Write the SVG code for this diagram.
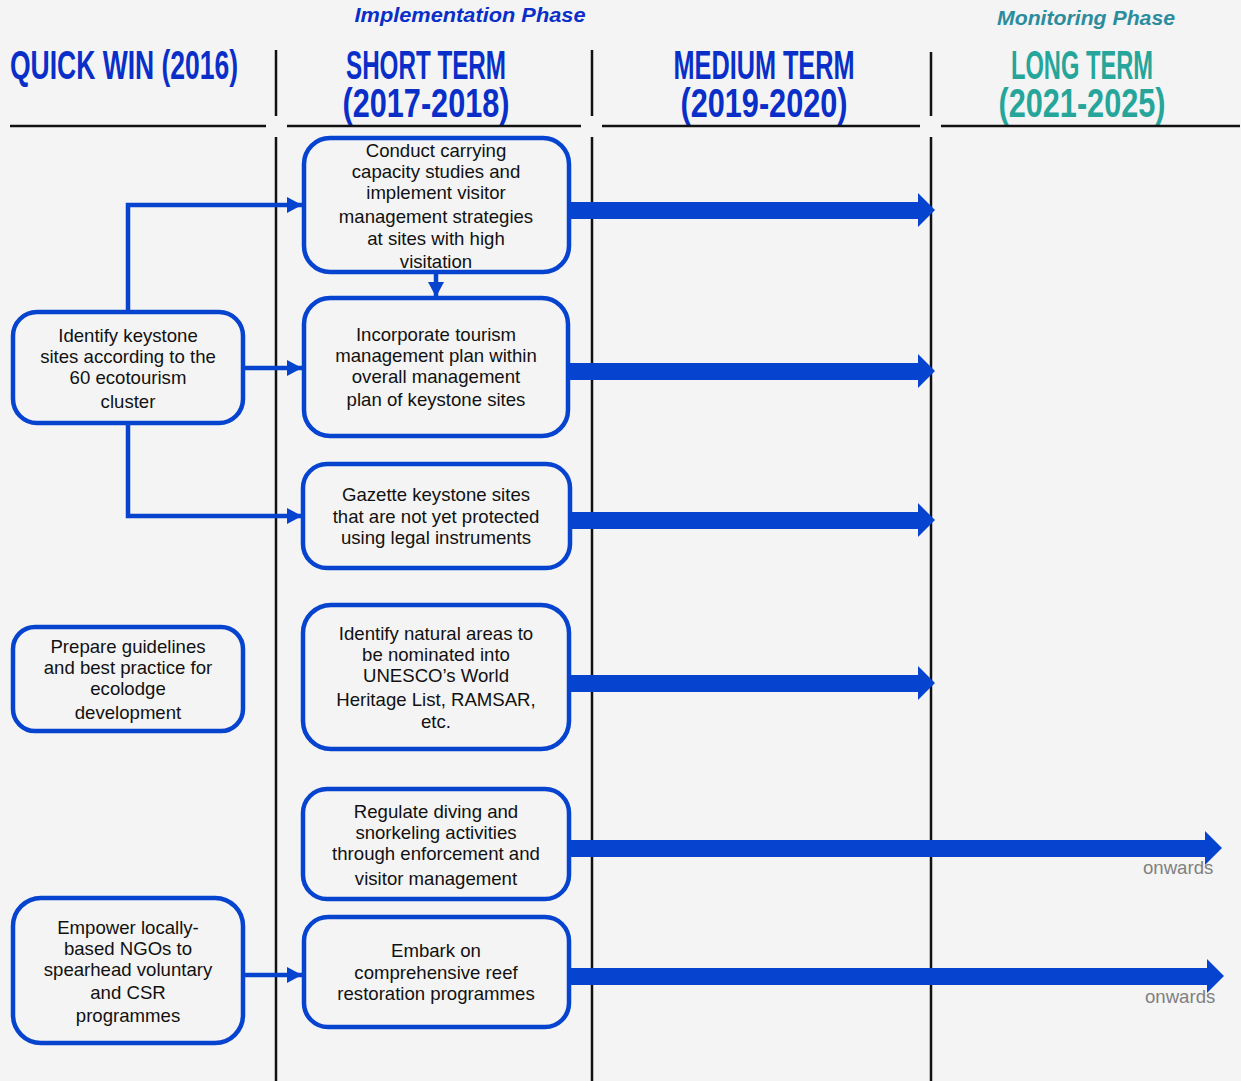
<svg xmlns="http://www.w3.org/2000/svg" width="1241" height="1081" viewBox="0 0 1241 1081">
<defs>
<style>
.bg{fill:#f4f4f4}
.div{stroke:#111;stroke-width:2.5;fill:none}
.box{fill:#f4f4f4;stroke:#0644d0;stroke-width:4.5}
.t{font-family:"Liberation Sans",Arial,sans-serif;font-size:18.6px;fill:#111;text-anchor:middle}
.hd{font-family:"Liberation Sans",Arial,sans-serif;font-weight:bold;font-size:40px;fill:#0a2fc8;text-anchor:middle}
.teal{fill:#26a69a}
.ph{font-family:"Liberation Sans",Arial,sans-serif;font-weight:bold;font-style:italic;font-size:20px;text-anchor:middle}
.conn{stroke:#0644d0;stroke-width:4.5;fill:none}
.big{fill:#0644d0}
.on{font-family:"Liberation Sans",Arial,sans-serif;font-size:18.6px;fill:#808080}
</style>
<marker id="ah" markerWidth="15" markerHeight="16" refX="15" refY="8" orient="auto" markerUnits="userSpaceOnUse">
<path d="M0,0 L15,8 L0,16 Z" fill="#0644d0"/>
</marker>
</defs>
<rect class="bg" x="0" y="0" width="1241" height="1081"/>

<g id="headers">
<text class="ph" x="470" y="22" fill="#0a2fc8" textLength="231" lengthAdjust="spacingAndGlyphs">Implementation Phase</text>
<text class="ph" x="1086" y="25" fill="#2b8c9e" textLength="178" lengthAdjust="spacingAndGlyphs">Monitoring Phase</text>
<text class="hd" x="124" y="79" textLength="228" lengthAdjust="spacingAndGlyphs">QUICK WIN (2016)</text>
<text class="hd" x="426" y="79" textLength="160" lengthAdjust="spacingAndGlyphs">SHORT TERM</text>
<text class="hd" x="426" y="117" textLength="167" lengthAdjust="spacingAndGlyphs">(2017-2018)</text>
<text class="hd" x="764" y="79" textLength="181" lengthAdjust="spacingAndGlyphs">MEDIUM TERM</text>
<text class="hd" x="764" y="117" textLength="167" lengthAdjust="spacingAndGlyphs">(2019-2020)</text>
<text class="hd teal" x="1082" y="79" textLength="142" lengthAdjust="spacingAndGlyphs">LONG TERM</text>
<text class="hd teal" x="1082" y="117" textLength="167" lengthAdjust="spacingAndGlyphs">(2021-2025)</text>
</g>

<g id="grid">
<line class="div" x1="10" y1="126" x2="266" y2="126"/>
<line class="div" x1="287" y1="126" x2="581" y2="126"/>
<line class="div" x1="602" y1="126" x2="920" y2="126"/>
<line class="div" x1="941" y1="126" x2="1240" y2="126"/>
<line class="div" x1="276" y1="50" x2="276" y2="116"/>
<line class="div" x1="276" y1="137" x2="276" y2="1081"/>
<line class="div" x1="592" y1="50" x2="592" y2="116"/>
<line class="div" x1="592" y1="137" x2="592" y2="1081"/>
<line class="div" x1="931" y1="52" x2="931" y2="116"/>
<line class="div" x1="931" y1="137" x2="931" y2="1081"/>
</g>

<g id="connectors">
<polyline class="conn" points="128,312 128,205 302,205" marker-end="url(#ah)"/>
<line class="conn" x1="243" y1="368" x2="302" y2="368" marker-end="url(#ah)"/>
<polyline class="conn" points="128,423 128,516 302,516" marker-end="url(#ah)"/>
<line class="conn" x1="436" y1="272" x2="436" y2="297" marker-end="url(#ah)"/>
<line class="conn" x1="243" y1="975" x2="302" y2="975" marker-end="url(#ah)"/>
<path class="big" d="M569,202 H918 V193 L935,210 L918,227 V219 H569 Z"/>
<path class="big" d="M568,363 H918 V354 L935,371 L918,388 V380 H568 Z"/>
<path class="big" d="M570,512 H918 V503 L935,520 L918,537 V529 H570 Z"/>
<path class="big" d="M569,675 H918 V666 L935,683 L918,700 V692 H569 Z"/>
<path class="big" d="M569,840 H1205 V831 L1222,848 L1205,865 V857 H569 Z"/>
<path class="big" d="M569,968 H1207 V959 L1224,976 L1207,993 V985 H569 Z"/>
<text class="on" x="1143" y="874">onwards</text>
<text class="on" x="1145" y="1003">onwards</text>
</g>

<g id="n-conduct">
<rect class="box" x="304" y="138" width="265" height="134" rx="26"/>
<text class="t" x="436" y="157">Conduct carrying</text>
<text class="t" x="436" y="178">capacity studies and</text>
<text class="t" x="436" y="199">implement visitor</text>
<text class="t" x="436" y="223">management strategies</text>
<text class="t" x="436" y="245">at sites with high</text>
<text class="t" x="436" y="268">visitation</text>
</g>

<g id="n-incorporate">
<rect class="box" x="304" y="298" width="264" height="138" rx="26"/>
<text class="t" x="436" y="341">Incorporate tourism</text>
<text class="t" x="436" y="362">management plan within</text>
<text class="t" x="436" y="383">overall management</text>
<text class="t" x="436" y="406">plan of keystone sites</text>
</g>

<g id="n-gazette">
<rect class="box" x="303" y="464" width="267" height="104" rx="24"/>
<text class="t" x="436" y="501">Gazette keystone sites</text>
<text class="t" x="436" y="523">that are not yet protected</text>
<text class="t" x="436" y="544">using legal instruments</text>
</g>

<g id="n-unesco">
<rect class="box" x="303" y="605" width="266" height="144" rx="28"/>
<text class="t" x="436" y="640">Identify natural areas to</text>
<text class="t" x="436" y="661">be nominated into</text>
<text class="t" x="436" y="682">UNESCO’s World</text>
<text class="t" x="436" y="706">Heritage List, RAMSAR,</text>
<text class="t" x="436" y="728">etc.</text>
</g>

<g id="n-regulate">
<rect class="box" x="303" y="789" width="266" height="110" rx="24"/>
<text class="t" x="436" y="818">Regulate diving and</text>
<text class="t" x="436" y="839">snorkeling activities</text>
<text class="t" x="436" y="860">through enforcement and</text>
<text class="t" x="436" y="885">visitor management</text>
</g>

<g id="n-embark">
<rect class="box" x="304" y="917" width="265" height="110" rx="24"/>
<text class="t" x="436" y="957">Embark on</text>
<text class="t" x="436" y="979">comprehensive reef</text>
<text class="t" x="436" y="1000">restoration programmes</text>
</g>

<g id="n-keystone">
<rect class="box" x="13" y="312" width="230" height="111" rx="24"/>
<text class="t" x="128" y="342">Identify keystone</text>
<text class="t" x="128" y="363">sites according to the</text>
<text class="t" x="128" y="384">60 ecotourism</text>
<text class="t" x="128" y="408">cluster</text>
</g>

<g id="n-prepare">
<rect class="box" x="13" y="627" width="230" height="104" rx="22"/>
<text class="t" x="128" y="653">Prepare guidelines</text>
<text class="t" x="128" y="674">and best practice for</text>
<text class="t" x="128" y="695">ecolodge</text>
<text class="t" x="128" y="719">development</text>
</g>

<g id="n-empower">
<rect class="box" x="13" y="898" width="230" height="145" rx="28"/>
<text class="t" x="128" y="934">Empower locally-</text>
<text class="t" x="128" y="955">based NGOs to</text>
<text class="t" x="128" y="976">spearhead voluntary</text>
<text class="t" x="128" y="999">and CSR</text>
<text class="t" x="128" y="1022">programmes</text>
</g>
</svg>
